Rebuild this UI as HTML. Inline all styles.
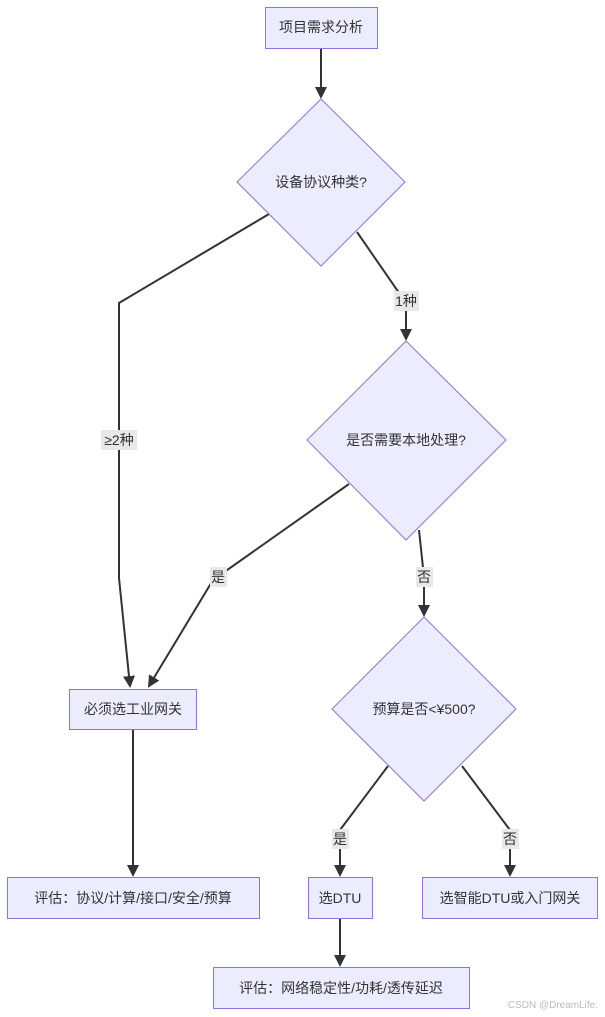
<!DOCTYPE html>
<html><head><meta charset="utf-8"><style>
html,body{margin:0;padding:0;background:#fff;}
svg{display:block;}
text{font-family:"Liberation Sans","Noto Sans CJK SC",sans-serif;font-size:14px;fill:#333;}
.n{fill:#ececff;stroke:#9370db;stroke-width:1;}
.e{fill:none;stroke:#333;stroke-width:2;}
.lb{fill:#e8e8e8;}
</style></head><body>
<svg width="605" height="1017" viewBox="0 0 605 1017">
<defs><marker id="a" markerWidth="12" markerHeight="12" refX="10" refY="6" orient="auto" markerUnits="userSpaceOnUse"><path d="M0,0 L12,6 L0,12 z" fill="#333"/></marker></defs>
<!-- edges -->
<path class="e" d="M321,48 L321,97" marker-end="url(#a)"/>
<path class="e" d="M269,214 L119,303 L119,578 L130,686" marker-end="url(#a)"/>
<path class="e" d="M357,232 L397,290 L406,300 L406,339" marker-end="url(#a)"/>
<path class="e" d="M349,484 L213,580 L149,686" marker-end="url(#a)"/>
<path class="e" d="M419,530 L424,577 L424,615" marker-end="url(#a)"/>
<path class="e" d="M388,766 L340,830 L340,875" marker-end="url(#a)"/>
<path class="e" d="M462,766 L510,830 L510,875" marker-end="url(#a)"/>
<path class="e" d="M133,730 L133,875" marker-end="url(#a)"/>
<path class="e" d="M340,918 L340,965" marker-end="url(#a)"/>
<!-- nodes -->
<rect class="n" x="265.5" y="7.5" width="112" height="41"/>
<text x="321" y="32" text-anchor="middle">项目需求分析</text>
<polygon class="n" points="321,99 405,182 321,266 237,182"/>
<text x="321" y="187" text-anchor="middle">设备协议种类?</text>
<polygon class="n" points="406,341 506,440 406,540 307,440"/>
<text x="406" y="445" text-anchor="middle">是否需要本地处理?</text>
<polygon class="n" points="424,617 516,709 424,801 332,709"/>
<text x="424" y="714" text-anchor="middle">预算是否&lt;¥500?</text>
<rect class="n" x="69.5" y="689.5" width="127" height="40"/>
<text x="133" y="714" text-anchor="middle">必须选工业网关</text>
<rect class="n" x="7.5" y="877.5" width="252" height="41"/>
<text x="133" y="903" text-anchor="middle">评估：协议/计算/接口/安全/预算</text>
<rect class="n" x="308.5" y="877.5" width="64" height="41"/>
<text x="340" y="903" text-anchor="middle">选DTU</text>
<rect class="n" x="422.5" y="877.5" width="175" height="41"/>
<text x="510" y="903" text-anchor="middle">选智能DTU或入门网关</text>
<rect class="n" x="213.5" y="967.5" width="256" height="41"/>
<text x="341" y="993" text-anchor="middle">评估：网络稳定性/功耗/透传延迟</text>
<!-- labels -->
<rect class="lb" x="101" y="430" width="36" height="20"/>
<text x="119" y="445" text-anchor="middle">≥2种</text>
<rect class="lb" x="394" y="291" width="25" height="20"/>
<text x="406" y="306" text-anchor="middle">1种</text>
<rect class="lb" x="210" y="567" width="17" height="20"/>
<text x="218" y="582" text-anchor="middle">是</text>
<rect class="lb" x="416" y="567" width="17" height="20"/>
<text x="424" y="582" text-anchor="middle">否</text>
<rect class="lb" x="332" y="829" width="17" height="20"/>
<text x="340" y="844" text-anchor="middle">是</text>
<rect class="lb" x="502" y="829" width="17" height="20"/>
<text x="510" y="844" text-anchor="middle">否</text>
<text x="598" y="1008" text-anchor="end" style="font-size:10px;fill:#bbb">CSDN @DreamLife.</text>
</svg>
</body></html>
